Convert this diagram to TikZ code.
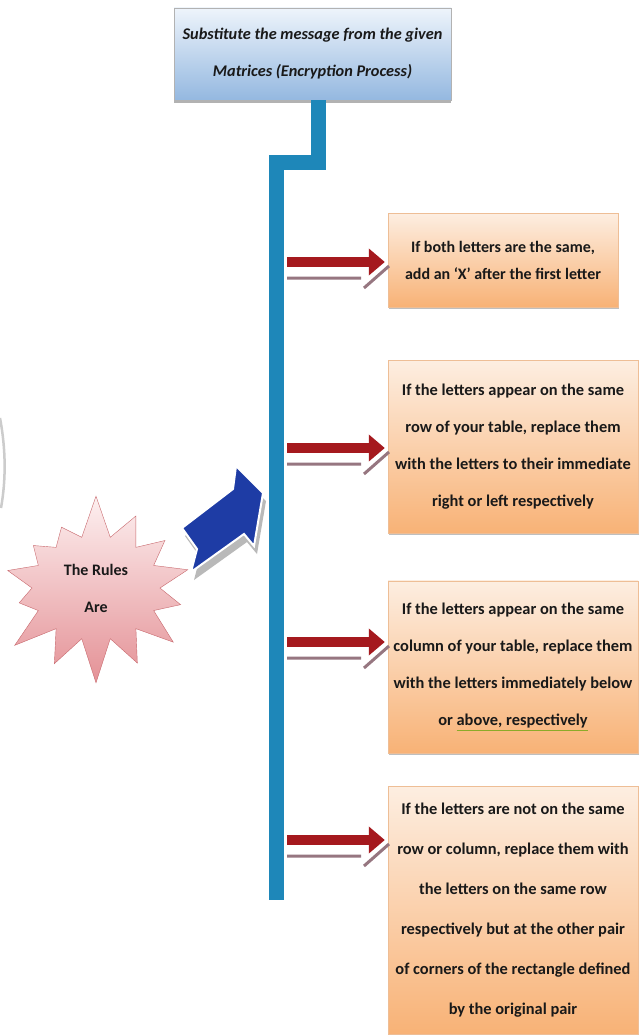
\documentclass[tikz,border=0pt]{standalone}
\usepackage{fontspec}
\setmainfont{Carlito}
\usepackage{xcolor}
\usepackage{tikz}
\usetikzlibrary{shapes.symbols, shadows, arrows.meta, positioning, calc}
\definecolor{barblue}{RGB}{30,135,185}
\definecolor{rulered}{RGB}{165,25,30}
\definecolor{redshade}{RGB}{150,118,128}
\definecolor{arrowblue}{RGB}{30,60,165}
\definecolor{peachtop}{RGB}{253,238,225}
\definecolor{peachbot}{RGB}{248,178,118}
\definecolor{peachline}{RGB}{238,190,150}
\definecolor{skytop}{RGB}{238,244,251}
\definecolor{skybot}{RGB}{148,184,224}
\definecolor{rosetop}{RGB}{253,240,240}
\definecolor{rosebot}{RGB}{228,145,150}
\definecolor{roseline}{RGB}{200,105,110}
\definecolor{inkgray}{RGB}{25,25,25}
\definecolor{squiggle}{RGB}{140,170,40}
\newcommand\rulefont[2]{\fontsize{#1}{#2}\selectfont\bfseries}
\newcommand\gramline[1]{{\color{squiggle}\underline{\color{inkgray}#1}}}
\tikzstyle{titlebox} = [rectangle, minimum width=277pt, minimum height=92pt, text centered, draw=gray!60, top color=skytop, bottom color=skybot, font=\rulefont{16.3}{37}\itshape, drop shadow={shadow xshift=0pt, shadow yshift=-3pt, opacity=0.6}]
\tikzstyle{rulebox} = [rectangle, inner sep=2pt, text centered, draw=peachline, top color=peachtop, bottom color=peachbot, drop shadow={shadow xshift=1pt, shadow yshift=-2pt, opacity=0.5}]
\tikzstyle{burst} = [starburst, starburst points=14, starburst point height=44pt, random starburst=7, minimum width=216pt, minimum height=192pt, inner sep=0pt, draw=roseline, top color=rosetop, bottom color=rosebot, font=\rulefont{16}{37}]
\tikzstyle{bar} = [line width=15pt, barblue, line join=miter]
\tikzstyle{redarrow} = [line width=10pt, rulered, -{Triangle[length=16pt, width=26pt]}]
\tikzstyle{redshadow} = [line width=3pt, redshade]

\begin{document}
\begin{tikzpicture}[x=1pt, y=-1pt, every node/.style={align=center, text=inkgray}]
\useasboundingbox[fill=white] (0,0) rectangle (640,1035);
\draw[black!20, line width=2.5pt] (0,418) .. controls (6,450) and (6,480) .. (1,508);
\node[titlebox] (subst) at (312.5,54) {Substitute the message from the given\\Matrices (Encryption Process)};
\coordinate (bartop) at (276,163);
\coordinate (barend) at (276,900);
\draw[bar] ([xshift=6pt]subst.south) |- (bartop) -- (barend);

\node[rulebox, minimum width=230pt, minimum height=94pt, font=\rulefont{16}{27}] (same) at (503,260) {If both letters are the same,\\add an `X' after the first letter};
\node[rulebox, below=53pt of same.south west, anchor=north west, minimum width=250pt, minimum height=173pt, font=\rulefont{16.4}{37}] (row) {If the letters appear on the same\\row of your table, replace them\\with the letters to their immediate\\right or left respectively};
\node[rulebox, below=47pt of row.south west, anchor=north west, minimum width=250pt, minimum height=172pt, font=\rulefont{16.4}{37}] (col) {If the letters appear on the same\\column of your table, replace them\\with the letters immediately below\\or \gramline{above, respectively}};
\node[rulebox, below=33pt of col.south west, anchor=north west, minimum width=250pt, minimum height=248pt, font=\rulefont{16.4}{40}] (rect) {If the letters are not on the same\\row or column, replace them with\\the letters on the same row\\respectively but at the other pair\\of corners of the rectangle defined\\by the original pair};

\foreach \b/\y in {same/262, row/448, col/642, rect/840} {
  \draw[redshadow] (barend |- 0,\y+16) ++(11,0) -- ++(74,0) ++(3,10) -- ++(25,-22);
  \draw[redarrow, shorten <=11pt, shorten >=3pt] (barend |- 0,\y) -- (\b.west |- 0,\y);
}

\node[burst] (rules) at (96,588) {The Rules\\Are};
\fill[gray!55, xshift=3pt, yshift=-8pt] (182,528) -- (233,489) -- (236,466) -- (263,493) -- (254,546) -- (244,534) -- (191,572) -- (197,549) -- cycle;
\filldraw[fill=arrowblue, draw=white, line width=2pt] (182,528) -- (233,489) -- (236,466) -- (263,493) -- (254,546) -- (244,534) -- (191,572) -- (197,549) -- cycle;
\end{tikzpicture}
\end{document}
